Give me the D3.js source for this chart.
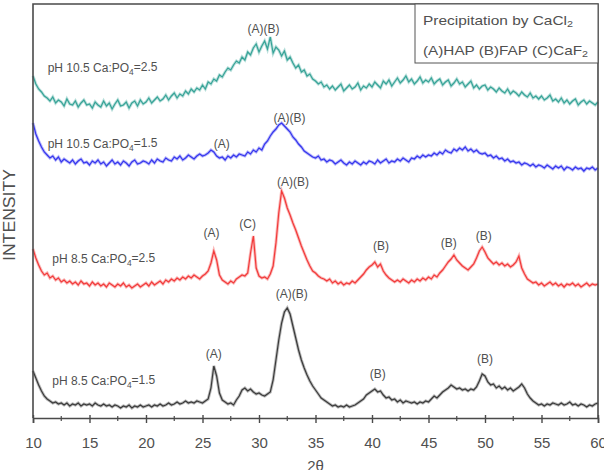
<!DOCTYPE html>
<html>
<head>
<meta charset="utf-8">
<script src="https://cdn.jsdelivr.net/npm/d3@7"></script>
<style>
  body { margin: 0; background: #fff; }
  svg text { font-family: "Liberation Sans", Arial, sans-serif; fill: #505050; }
</style>
</head>
<body>
<script>
// 2-theta grid: 10 to 60 deg, step 0.25 (201 points)
var twoTheta = d3.range(0, 201).map(function(i){ return 10 + i * 0.25; });

// intensities (arbitrary units), one row per 5 deg
var black_85_15 = [
  47,40,33,27,22,19,17,15,16,14,15,13,15,12,14,13,15,12,14,13,
  14,12,15,13,12,14,12,13,11,13,12,10,12,11,13,10,12,11,13,11,
  12,13,11,13,12,14,12,13,15,13,14,16,14,15,17,15,16,15,17,16,
  15,17,19,30,52,42,25,18,16,14,15,13,18,22,28,30,27,29,26,24,
  25,23,22,24,26,38,58,78,95,106,110,104,92,80,68,58,50,43,37,32,
  28,24,20,18,16,14,12,13,11,12,11,13,11,12,13,15,17,19,23,25,
  27,29,26,27,23,20,21,18,19,16,18,15,17,16,15,16,14,16,15,17,
  16,19,22,20,23,26,28,30,33,31,29,30,28,29,27,29,28,31,37,44,
  42,36,33,34,30,32,29,31,28,30,27,29,31,34,30,24,20,17,15,13,
  14,12,14,13,15,14,13,15,13,14,16,13,14,12,14,13,11,13,12,14,
  15
];
var red_85_25 = [
  169,160,153,147,143,145,140,142,138,140,136,138,135,137,134,136,133,137,134,135,
  132,136,133,135,132,134,131,135,133,131,134,132,135,131,133,130,132,134,131,133,
  135,132,136,133,135,137,134,138,136,139,137,140,138,141,139,142,140,143,141,139,
  142,144,147,155,167,158,143,138,136,134,137,135,139,141,143,142,145,165,182,150,
  142,140,141,139,144,152,175,205,227,220,210,203,195,188,180,172,165,158,152,147,
  145,142,140,139,137,139,135,137,134,136,133,135,134,137,135,138,141,144,148,151,
  153,156,151,154,147,143,140,138,136,138,136,139,137,135,138,136,139,137,140,138,
  141,139,143,141,145,148,152,156,159,163,158,155,152,150,148,151,154,160,167,171,
  166,160,157,154,156,153,155,152,154,151,153,156,162,150,144,139,137,135,136,133,
  135,132,134,136,133,135,132,134,131,134,133,135,132,134,131,133,135,132,134,133,
  134
];
var blue_105_15 = [
  295,284,277,271,266,263,260,262,258,261,256,259,257,255,258,254,257,259,255,256,
  253,257,255,258,254,256,252,255,258,254,256,253,257,255,252,256,258,254,255,257,
  256,254,258,255,259,257,256,260,258,257,261,259,262,258,260,263,261,259,262,264,
  262,263,265,268,266,262,260,261,258,262,260,263,261,264,263,262,266,264,268,266,
  270,268,274,277,282,286,289,293,295,292,289,286,281,278,274,271,267,265,263,261,
  260,262,258,259,256,258,257,254,256,258,255,253,256,254,257,255,253,256,254,257,
  256,254,258,255,257,259,255,257,256,259,257,260,258,256,260,259,262,260,263,261,
  263,262,265,263,266,264,268,266,265,269,267,270,268,271,267,269,266,268,265,264,
  265,262,263,260,262,259,260,257,259,256,257,255,256,253,255,254,252,254,251,253,
  252,250,253,251,249,252,250,252,248,251,250,248,251,249,250,247,250,249,251,248,
  250
];
var teal_105_25 = [
  342,334,329,326,322,320,317,321,315,318,316,312,319,314,313,317,311,315,318,313,
  314,310,316,313,311,317,312,315,309,314,318,312,313,316,310,315,317,312,318,314,
  316,320,315,318,321,317,319,323,318,322,325,320,324,322,327,324,329,326,330,328,
  333,329,336,334,339,337,343,341,346,350,348,353,357,355,361,358,366,363,370,374,
  366,372,377,369,381,365,371,368,362,367,358,361,355,350,353,346,348,342,344,339,
  337,334,336,331,333,329,332,328,331,334,327,330,333,329,331,335,328,332,330,334,
  331,336,333,330,337,334,338,332,336,340,335,338,342,336,339,334,337,341,335,338,
  336,340,334,337,339,333,336,338,332,335,339,334,336,331,334,337,330,333,329,332,
  333,328,331,329,326,330,327,325,329,324,327,325,322,326,323,321,325,320,322,319,
  322,318,320,323,317,319,316,320,315,318,314,317,319,313,316,318,314,317,315,313,
  316
];

var seriesNames = ["pH 10.5 Ca:PO|4|=2.5", "pH 10.5 Ca:PO|4|=1.5", "pH 8.5 Ca:PO|4|=2.5", "pH 8.5 Ca:PO|4|=1.5"];
var seriesColors = ["#36a397", "#3535ee", "#f23a3a", "#3a3a3a"];
var seriesData = [teal_105_25, blue_105_15, red_85_25, black_85_15];
// where each series name sits (2-theta, intensity)
var nameAt2T = [11.3, 11.3, 11.7, 11.7];
var nameAtI = [350, 274, 159, 37];

// phase labels above the peaks: text, 2-theta, intensity
var peakText = ["(A)(B)", "(A)", "(A)(B)", "(A)", "(C)", "(A)(B)", "(B)", "(B)", "(B)", "(A)", "(A)(B)", "(B)", "(B)"];
var peak2T =   [30.4, 26.7, 32.7, 25.8, 29.0, 33.0, 40.8, 46.8, 49.9, 26.0, 32.9, 40.5, 50.0];
var peakI =    [389, 274, 300, 185, 194, 236, 172, 175, 182, 64, 124, 44, 59];

var xTicks = [10, 15, 20, 25, 30, 35, 40, 45, 50, 55, 60];
var xMinor = [12.5, 17.5, 22.5, 27.5, 32.5, 37.5, 42.5, 47.5, 52.5, 57.5];
var legendLines = ["Precipitation by CaCl|2|", "(A)HAP (B)FAP (C)CaF|2|"];
var legendWidths = [150, 165];

var width = 604, height = 470;
var plotL = 33, plotR = 598, plotT = 4, plotB = 418;

var svg = d3.select("body").append("svg")
    .attr("width", width)
    .attr("height", height);

var x = d3.scaleLinear().domain([10, 60]).range([plotL, plotR]);
var y = d3.scaleLinear().domain([0, 414]).range([plotB, plotT]);

var line = d3.line()
    .x(function(d){ return x(d[0]); })
    .y(function(d){ return y(d[1]); });

// write "abc|4|def" as text with a subscript
function subText(sel, str){
  var parts = str.split("|");
  parts.forEach(function(p, i){
    var t = sel.append("tspan").text(p);
    if (i % 2 == 1) t.attr("font-size", "0.7em").attr("dy", "0.3em");
    else if (i > 0) t.attr("dy", "-0.3em");
  });
}

// spectra
seriesData.forEach(function(vals, k){
  var pts = twoTheta.map(function(t, i){ return [t, vals[i]]; });
  svg.append("path")
      .datum(pts)
      .attr("d", line)
      .attr("fill", "none")
      .attr("stroke", seriesColors[k])
      .attr("stroke-opacity", 0.35)
      .attr("stroke-width", 3);
  svg.append("path")
      .datum(pts)
      .attr("d", line)
      .attr("fill", "none")
      .attr("stroke", seriesColors[k])
      .attr("stroke-width", 1.2);
});

// series names
seriesNames.forEach(function(n, k){
  var t = svg.append("text")
      .attr("x", x(nameAt2T[k]))
      .attr("y", y(nameAtI[k]))
      .attr("dy", "0.35em")
      .attr("font-size", 12);
  subText(t, n);
});

// peak labels
svg.selectAll("text.peak")
  .data(peakText)
  .enter().append("text")
    .attr("class", "peak")
    .attr("x", function(d, i){ return x(peak2T[i]); })
    .attr("y", function(d, i){ return y(peakI[i]); })
    .attr("dy", "0.35em")
    .attr("text-anchor", "middle")
    .attr("font-size", 12)
    .text(function(d){ return d; });

// frame
svg.append("path")
    .attr("d", "M" + plotL + "," + plotB + "V" + plotT + "H" + plotR + "V" + plotB)
    .attr("fill", "none")
    .attr("stroke", "#4a4a4a")
    .attr("stroke-width", 1.6);

// x axis
var gx = svg.append("g")
    .attr("transform", "translate(0," + plotB + ")")
    .call(d3.axisBottom(x).tickValues(xTicks).tickSize(5).tickPadding(14).tickFormat(d3.format("d")));
gx.select(".domain").attr("stroke", "#4a4a4a").attr("stroke-width", 1.6);
gx.selectAll(".tick line").attr("stroke", "#4a4a4a").attr("stroke-width", 1.4).attr("y1", -3);
gx.selectAll(".tick text").attr("font-size", 15).attr("fill", "#555")
    .attr("font-family", "Liberation Sans, Arial, sans-serif");

svg.append("g").selectAll("line")
  .data(xMinor)
  .enter().append("line")
    .attr("x1", function(d){ return x(d); })
    .attr("x2", function(d){ return x(d); })
    .attr("y1", plotB - 2)
    .attr("y2", plotB + 3)
    .attr("stroke", "#4a4a4a")
    .attr("stroke-width", 1.2);

// axis titles
svg.append("text")
    .attr("x", x(35))
    .attr("y", 471)
    .attr("text-anchor", "middle")
    .attr("font-size", 15)
    .text("2θ");

svg.append("text")
    .attr("transform", "translate(15," + 215 + ") rotate(-90)")
    .attr("text-anchor", "middle")
    .attr("font-size", 16)
    .attr("textLength", 92)
    .attr("lengthAdjust", "spacingAndGlyphs")
    .text("INTENSITY");

// legend box
var lg = svg.append("g");
lg.append("rect")
    .attr("x", 415).attr("y", plotT)
    .attr("width", plotR - 415).attr("height", 59)
    .attr("fill", "#fff")
    .attr("stroke", "#555")
    .attr("stroke-width", 1);
legendLines.forEach(function(s, i){
  var t = lg.append("text")
      .attr("x", 423)
      .attr("y", 20 + i * 30)
      .attr("dy", "0.35em")
      .attr("font-size", 13)
      .attr("textLength", legendWidths[i])
      .attr("lengthAdjust", "spacingAndGlyphs");
  subText(t, s);
});
</script>
</body>
</html>
